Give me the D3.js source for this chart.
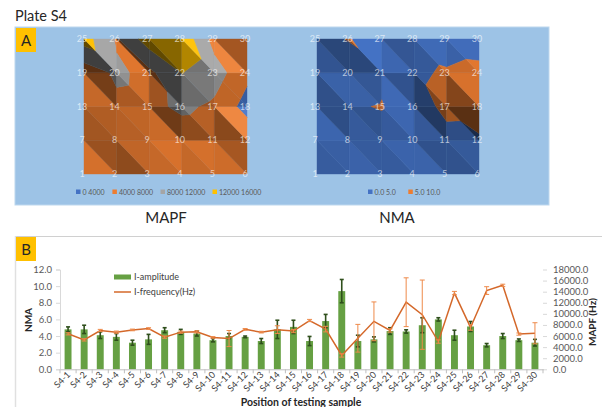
<!DOCTYPE html>
<html>
<head>
<meta charset="utf-8">
<script src="https://cdn.jsdelivr.net/npm/d3@7"></script>
<style>
  html, body { margin: 0; padding: 0; background: #fff; }
  svg { display: block; font-family: Lato, "Open Sans", sans-serif; }
</style>
</head>
<body>
<svg id="fig" width="602" height="407"></svg>
<script>
// ---- data: plate S4, 30 testing positions (6 columns x 5 rows) ----
const samples = d3.range(1, 31).map(i => "S4-" + i);
const amplitude = [4.8, 4.8, 4.1, 3.9, 3.2, 3.6, 4.7, 4.5, 4.3, 3.5,
                   4.0, 3.9, 3.4, 4.8, 5.1, 3.4, 5.8, 9.4, 3.4, 3.6,
                   4.6, 4.55, 5.3, 6.0, 4.1, 5.15, 2.9, 4.0, 3.5, 3.2];
const amplitudeErr = [0.3, 0.5, 0.4, 0.4, 0.3, 0.6, 0.3, 0.3, 0.3, 0.2,
                      0.3, 0.1, 0.3, 1.1, 0.8, 0.55, 0.8, 1.4, 0.7, 0.3,
                      0.4, 0.2, 0.9, 0.2, 0.6, 0.6, 0.2, 0.3, 0.15, 0.4];
const frequency = [6400, 5300, 7000, 6700, 7100, 7350, 5800, 6700, 6750, 5750,
                   5550, 7200, 6700, 7150, 6900, 8800, 7250, 2500, 5600, 8650,
                   7000, 12100, 9850, 5000, 13750, 7550, 14200, 15150, 6350, 6500];
const frequencyErr = [200, 200, 200, 200, 150, 150, 200, 200, 200, 150,
                      1450, 150, 150, 700, 300, 200, 500, 300, 2500, 3500,
                      300, 4400, 6250, 300, 300, 500, 700, 200, 200, 1900];
const nCols = 6, nRows = 5;

// contour bands of the two maps
const mapfBands = [0, 4000, 8000, 12000, 16000];
const mapfLabels = ["0 4000", "4000 8000", "8000 12000", "12000 16000"];
const nmaBands = [0, 5, 10];
const nmaLabels = ["0.0 5.0", "5.0 10.0"];
const bandColors = ["#4472C4", "#ED7D31", "#A5A5A5", "#FFC000"];

// axis ticks of the bar/line chart
const nmaTicks = [0, 2, 4, 6, 8, 10, 12];
const hzTicks = [0, 2000, 4000, 6000, 8000, 10000, 12000, 14000, 16000, 18000];

const svg = d3.select("#fig");
const ink = "#262626";

svg.append("text").attr("x", 15).attr("y", 21).attr("font-size", 14.5)
  .attr("fill", ink).text("Plate S4");

// ================= panel A: surface maps seen from the top =================
svg.append("rect").attr("x", 15).attr("y", 27).attr("width", 534).attr("height", 178)
  .attr("fill", "#9DC3E6").attr("stroke", "#BDD7EE").attr("stroke-width", 1);
svg.append("rect").attr("x", 16).attr("y", 28).attr("width", 20).attr("height", 24).attr("fill", "#FFC000");
svg.append("text").attr("x", 26).attr("y", 46).attr("text-anchor", "middle")
  .attr("font-size", 15).attr("fill", ink).text("A");

// clip a polygon (points carry value v) to the half-space v >= t (sign=1) or v <= t (sign=-1)
function clipPoly(poly, t, sign) {
  const out = [];
  for (let i = 0; i < poly.length; i++) {
    const a = poly[i], b = poly[(i + 1) % poly.length];
    const ina = sign * (a.v - t) >= 0, inb = sign * (b.v - t) >= 0;
    if (ina) out.push(a);
    if (ina !== inb) {
      const k = (t - a.v) / (b.v - a.v);
      out.push({ c: a.c + k * (b.c - a.c), r: a.r + k * (b.r - a.r), v: t });
    }
  }
  return out;
}

// lighting of a flat facet, light coming from the upper right
const light = (() => { const l = [0.5, 0.5, 0.707]; const n = Math.hypot(...l); return l.map(d => d / n); })();
function shadeColor(base, tri, range) {
  // plane gradient per grid cell, normalised by the value range
  const [p0, p1, p2] = tri;
  const e1 = [p1.c - p0.c, p1.r - p0.r, (p1.v - p0.v) / range];
  const e2 = [p2.c - p0.c, p2.r - p0.r, (p2.v - p0.v) / range];
  const det = e1[0] * e2[1] - e1[1] * e2[0];
  const gx = (e1[2] * e2[1] - e2[2] * e1[1]) / det;
  const gy = (e1[0] * e2[2] - e2[0] * e1[2]) / det;
  const s = 1.7;
  let n = [-s * gx, -s * gy, 1];
  const nn = Math.hypot(...n); n = n.map(d => d / nn);
  const dot = n[0] * light[0] + n[1] * light[1] + n[2] * light[2];
  let f = 0.8 * Math.max(0, dot) / light[2];
  f = Math.max(0.38, Math.min(1.4, f));
  const c = d3.rgb(base);
  if (f <= 1) return d3.rgb(c.r * f, c.g * f, c.b * f).formatHex();
  return d3.interpolateRgb(c, "#ffffff")((f - 1) * 0.7);
}

function surfaceMap(values, bands, labels, x0, x1, yTop, yBot, range, legendX, title, titleX) {
  const g = svg.append("g");
  const xs = d3.scaleLinear().domain([0, nCols - 1]).range([x0, x1]);
  const ys = d3.scaleLinear().domain([0, nRows - 1]).range([yBot, yTop]);
  const node = (c, r) => ({ c, r, v: values[r * nCols + c] });
  const tris = [];
  for (let r = 0; r < nRows - 1; r++) {
    for (let c = 0; c < nCols - 1; c++) {
      const bl = node(c, r), br = node(c + 1, r), tl = node(c, r + 1), tr = node(c + 1, r + 1);
      tris.push([tl, bl, br], [tl, tr, br]);
    }
  }
  tris.forEach(tri => {
    for (let b = 0; b < bands.length - 1; b++) {
      let poly = clipPoly(tri, bands[b], 1);
      if (poly.length < 3) continue;
      poly = clipPoly(poly, bands[b + 1], -1);
      if (poly.length < 3) continue;
      const col = shadeColor(bandColors[b], tri, range);
      g.append("polygon")
        .attr("points", poly.map(p => [xs(p.c), ys(p.r)].join(",")).join(" "))
        .attr("fill", col).attr("stroke", col).attr("stroke-width", 0.4);
    }
  });
  // position numbers at grid nodes
  for (let r = 0; r < nRows; r++) {
    for (let c = 0; c < nCols; c++) {
      g.append("text").attr("x", xs(c) - 2).attr("y", ys(r) + 3)
        .attr("text-anchor", "middle").attr("font-size", 9)
        .attr("fill", "#ffffff").attr("fill-opacity", 0.65)
        .text(r * nCols + c + 1);
    }
  }
  // legend
  let lx = legendX;
  labels.forEach((l, i) => {
    g.append("rect").attr("x", lx).attr("y", 189.5).attr("width", 4.5).attr("height", 4.5)
      .attr("fill", bandColors[i]);
    g.append("text").attr("x", lx + 6.5).attr("y", 194.5).attr("font-size", 7)
      .attr("fill", "#595959").text(l);
    lx += l.length * 3.9 + 13;
  });
  svg.append("text").attr("x", titleX).attr("y", 223).attr("text-anchor", "middle")
    .attr("font-size", 15).attr("fill", ink).text(title);
}

surfaceMap(frequency, mapfBands, mapfLabels, 84, 247, 39, 174, 16000, 76, "MAPF", 166);
surfaceMap(amplitude, nmaBands, nmaLabels, 317, 479, 39, 174, 15, 368, "NMA", 397);

// ================= panel B: amplitude bars + frequency line =================
svg.append("line").attr("x1", 15).attr("x2", 602).attr("y1", 236.5).attr("y2", 236.5)
  .attr("stroke", "#D0D0D0").attr("stroke-width", 1);
svg.append("line").attr("x1", 15.5).attr("x2", 15.5).attr("y1", 236).attr("y2", 407)
  .attr("stroke", "#E0E0E0").attr("stroke-width", 1.5);
svg.append("rect").attr("x", 16).attr("y", 237).attr("width", 20).attr("height", 24).attr("fill", "#FFC000");
svg.append("text").attr("x", 26).attr("y", 255).attr("text-anchor", "middle")
  .attr("font-size", 15).attr("fill", ink).text("B");

const plot = { left: 60, right: 543, top: 269.5, bottom: 369.3 };
const x = d3.scaleBand().domain(samples).range([plot.left, plot.right]).paddingInner(0).paddingOuter(0);
const yL = d3.scaleLinear().domain([0, 12]).range([plot.bottom, plot.top]);
const yR = d3.scaleLinear().domain([0, 18000]).range([plot.bottom, plot.top]);
const barW = x.bandwidth() * 0.43;

// left axis
const axL = svg.append("g").attr("transform", `translate(${plot.left},0)`)
  .call(d3.axisLeft(yL).tickValues(nmaTicks).tickFormat(d3.format(".1f")).tickSize(4).tickPadding(4));
// right axis
const axR = svg.append("g").attr("transform", `translate(${plot.right},0)`)
  .call(d3.axisRight(yR).tickValues(hzTicks).tickFormat(d3.format(".1f")).tickSize(4).tickPadding(6));
[axL, axR].forEach(ax => {
  ax.select(".domain").attr("stroke", "#D9D9D9");
  ax.selectAll(".tick line").attr("stroke", "#D9D9D9");
  ax.selectAll(".tick text").attr("fill", "#595959").attr("font-size", 9.5)
    .attr("font-family", "Lato, sans-serif");
});
axR.select(".domain").attr("stroke", "none");

// bars
svg.append("g").selectAll("rect").data(samples).join("rect")
  .attr("x", d => x(d) + x.bandwidth() / 2 - barW / 2)
  .attr("y", (d, i) => yL(amplitude[i]))
  .attr("width", barW)
  .attr("height", (d, i) => plot.bottom - yL(amplitude[i]))
  .attr("fill", "#66A043");

// bar error bars
const eb = svg.append("g").attr("stroke", "#2F4F1C").attr("stroke-width", 1.6);
samples.forEach((s, i) => {
  const cx = x(s) + x.bandwidth() / 2;
  const lo = yL(amplitude[i] - amplitudeErr[i]), hi = yL(amplitude[i] + amplitudeErr[i]);
  eb.append("line").attr("x1", cx).attr("x2", cx).attr("y1", lo).attr("y2", hi);
  eb.append("line").attr("x1", cx - 2).attr("x2", cx + 2).attr("y1", lo).attr("y2", lo);
  eb.append("line").attr("x1", cx - 2).attr("x2", cx + 2).attr("y1", hi).attr("y2", hi);
});

// x axis
const axB = svg.append("g").attr("transform", `translate(0,${plot.bottom})`)
  .call(d3.axisBottom(x).tickSize(0).tickFormat(""));
axB.select(".domain").attr("stroke", "#BFBFBF");
const tickG = svg.append("g").attr("stroke", "#BFBFBF");
d3.range(samples.length + 1).forEach(i => {
  const tx = plot.left + i * x.step();
  tickG.append("line").attr("x1", tx).attr("x2", tx).attr("y1", plot.bottom).attr("y2", plot.bottom + 4);
});
svg.append("g").selectAll("text").data(samples).join("text")
  .attr("transform", d => `translate(${x(d) + x.bandwidth() / 2 + 3},${plot.bottom + 6}) rotate(-45)`)
  .attr("text-anchor", "end").attr("font-size", 9).attr("fill", "#404040").text(d => d);

// frequency line
const line = d3.line().x((d, i) => x(samples[i]) + x.bandwidth() / 2).y(d => yR(d));
svg.append("path").datum(frequency).attr("d", line)
  .attr("fill", "none").attr("stroke", "#D4682A").attr("stroke-width", 1.5);

// frequency error bars
const fe = svg.append("g").attr("stroke", "#EE8A4A").attr("stroke-width", 1);
samples.forEach((s, i) => {
  const cx = x(s) + x.bandwidth() / 2;
  const lo = yR(frequency[i] - frequencyErr[i]), hi = yR(frequency[i] + frequencyErr[i]);
  fe.append("line").attr("x1", cx).attr("x2", cx).attr("y1", lo).attr("y2", hi);
  fe.append("line").attr("x1", cx - 2.5).attr("x2", cx + 2.5).attr("y1", lo).attr("y2", lo);
  fe.append("line").attr("x1", cx - 2.5).attr("x2", cx + 2.5).attr("y1", hi).attr("y2", hi);
});

// legend
svg.append("rect").attr("x", 114).attr("y", 274.5).attr("width", 17).attr("height", 5).attr("fill", "#66A043");
svg.append("text").attr("x", 134).attr("y", 280).attr("font-size", 9).attr("fill", "#404040").text("I-amplitude");
svg.append("line").attr("x1", 114).attr("x2", 131).attr("y1", 292).attr("y2", 292)
  .attr("stroke", "#D4682A").attr("stroke-width", 1.5);
svg.append("text").attr("x", 134).attr("y", 295).attr("font-size", 9).attr("fill", "#404040").text("I-frequency(Hz)");

// axis titles
svg.append("text").attr("transform", "translate(32,320) rotate(-90)").attr("text-anchor", "middle")
  .attr("font-size", 10).attr("font-weight", "bold").attr("fill", ink).text("NMA");
svg.append("text").attr("transform", "translate(596,322) rotate(-90)").attr("text-anchor", "middle")
  .attr("font-size", 10).attr("font-weight", "bold").attr("fill", ink).text("MAPF (Hz)");
svg.append("text").attr("x", 301).attr("y", 406).attr("text-anchor", "middle")
  .attr("font-size", 10.5).attr("font-weight", "bold").attr("fill", ink).text("Position of testing sample");
</script>
</body>
</html>
